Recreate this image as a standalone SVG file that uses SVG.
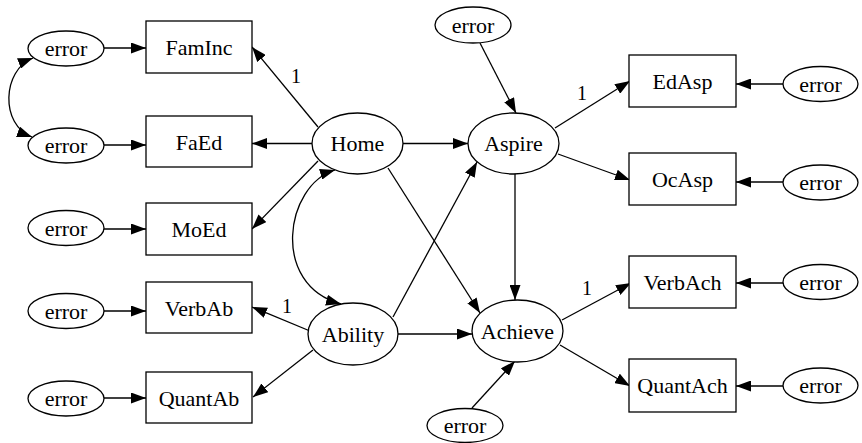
<svg xmlns="http://www.w3.org/2000/svg" width="862" height="443" viewBox="0 0 862 443">
<style>
.n{fill:#fff;stroke:#000;stroke-width:1.3}
.t{font-family:"Liberation Serif","DejaVu Serif",serif;font-size:22px;text-anchor:middle;fill:#000}
.e{fill:none;stroke:#000;stroke-width:1.3;marker-end:url(#ah)}
.b{fill:none;stroke:#000;stroke-width:1.3;marker-end:url(#ah);marker-start:url(#ah)}
.l{font-family:"Liberation Serif","DejaVu Serif",serif;font-size:20px;text-anchor:middle;fill:#000}
</style>
<defs>
<marker id="ah" viewBox="0 0 15 11" refX="15" refY="5.5" markerWidth="15" markerHeight="11" markerUnits="userSpaceOnUse" orient="auto-start-reverse"><path d="M0,0 L15,5.5 L0,11 z" fill="#000"/></marker>
</defs>
<rect width="862" height="443" fill="#fff"/>
<g id="connectors">
<line class="e" x1="104" y1="48" x2="146" y2="48"/>
<line class="e" x1="104" y1="145" x2="146" y2="145"/>
<line class="e" x1="104" y1="229" x2="146" y2="229"/>
<line class="e" x1="104" y1="311" x2="146" y2="311"/>
<line class="e" x1="104" y1="398" x2="146" y2="398"/>
<path class="b" d="M33,58 C2,70 0,125 32,137"/>
<line class="e" x1="318" y1="127" x2="252" y2="47"/>
<line class="e" x1="312" y1="143.5" x2="252" y2="143.5"/>
<line class="e" x1="318" y1="161" x2="252" y2="229"/>
<path class="b" d="M335,170 C285,185 270,285 341,304"/>
<line class="e" x1="403" y1="143.5" x2="468" y2="143.5"/>
<line class="e" x1="388" y1="168" x2="480" y2="313"/>
<line class="e" x1="393" y1="317" x2="477" y2="162"/>
<line class="e" x1="398" y1="334" x2="472" y2="334"/>
<line class="e" x1="310" y1="331" x2="252" y2="307"/>
<line class="e" x1="313" y1="350" x2="253" y2="397"/>
<line class="e" x1="515" y1="174" x2="515" y2="300"/>
<line class="e" x1="480" y1="43" x2="516" y2="113"/>
<line class="e" x1="472" y1="408" x2="515" y2="361"/>
<line class="e" x1="555" y1="128" x2="630" y2="81"/>
<line class="e" x1="558" y1="154" x2="630" y2="180"/>
<line class="e" x1="562" y1="320" x2="631" y2="283"/>
<line class="e" x1="560" y1="345" x2="630" y2="386"/>
<line class="e" x1="783" y1="84" x2="736" y2="84"/>
<line class="e" x1="783" y1="182" x2="736" y2="182"/>
<line class="e" x1="783" y1="283" x2="736" y2="283"/>
<line class="e" x1="783" y1="386" x2="736" y2="386"/>
<text class="l" x="296" y="83">1</text>
<text class="l" x="287" y="313">1</text>
<text class="l" x="582" y="100">1</text>
<text class="l" x="587" y="295">1</text>
</g>
<g id="err_faminc"><ellipse class="n" cx="66" cy="48.5" rx="38" ry="17.5"/><text class="t" x="66" y="56">error</text></g>
<g id="err_faed"><ellipse class="n" cx="66" cy="145.5" rx="38" ry="17.5"/><text class="t" x="66" y="153">error</text></g>
<g id="err_moed"><ellipse class="n" cx="66" cy="228" rx="38" ry="17.5"/><text class="t" x="66" y="235.5">error</text></g>
<g id="err_verbab"><ellipse class="n" cx="66" cy="311" rx="38" ry="17.5"/><text class="t" x="66" y="318.5">error</text></g>
<g id="err_quantab"><ellipse class="n" cx="66" cy="398.5" rx="38" ry="17.5"/><text class="t" x="66" y="406">error</text></g>
<g id="FamInc"><rect class="n" x="146" y="21" width="106" height="52"/><text class="t" x="199" y="55">FamInc</text></g>
<g id="FaEd"><rect class="n" x="146" y="116" width="106" height="51"/><text class="t" x="199" y="149.5">FaEd</text></g>
<g id="MoEd"><rect class="n" x="146" y="203" width="106" height="52"/><text class="t" x="199" y="237">MoEd</text></g>
<g id="VerbAb"><rect class="n" x="146" y="282" width="106" height="51"/><text class="t" x="199" y="315.5">VerbAb</text></g>
<g id="QuantAb"><rect class="n" x="146" y="372" width="106" height="51"/><text class="t" x="199" y="405.5">QuantAb</text></g>
<g id="Home"><ellipse class="n" cx="357.5" cy="143.5" rx="45.5" ry="30.5"/><text class="t" x="357.5" y="151">Home</text></g>
<g id="Ability"><ellipse class="n" cx="353" cy="334" rx="45" ry="31"/><text class="t" x="353" y="341.5">Ability</text></g>
<g id="Aspire"><ellipse class="n" cx="513.5" cy="143.5" rx="45.5" ry="30.5"/><text class="t" x="513.5" y="151">Aspire</text></g>
<g id="Achieve"><ellipse class="n" cx="517.5" cy="331" rx="45.5" ry="31"/><text class="t" x="517.5" y="338.5">Achieve</text></g>
<g id="err_aspire"><ellipse class="n" cx="473" cy="25" rx="38" ry="18"/><text class="t" x="473" y="32.5">error</text></g>
<g id="err_achieve"><ellipse class="n" cx="465" cy="425.5" rx="38" ry="17"/><text class="t" x="465" y="433">error</text></g>
<g id="EdAsp"><rect class="n" x="629" y="55" width="107" height="52"/><text class="t" x="682.5" y="89">EdAsp</text></g>
<g id="OcAsp"><rect class="n" x="629" y="153" width="107" height="52"/><text class="t" x="682.5" y="187">OcAsp</text></g>
<g id="VerbAch"><rect class="n" x="629" y="256" width="107" height="52"/><text class="t" x="682.5" y="290">VerbAch</text></g>
<g id="QuantAch"><rect class="n" x="629" y="359" width="107" height="53"/><text class="t" x="682.5" y="393">QuantAch</text></g>
<g id="err_edasp"><ellipse class="n" cx="820.5" cy="84" rx="37.5" ry="17.5"/><text class="t" x="820.5" y="91.5">error</text></g>
<g id="err_ocasp"><ellipse class="n" cx="820.5" cy="182.5" rx="37.5" ry="17.5"/><text class="t" x="820.5" y="190">error</text></g>
<g id="err_verbach"><ellipse class="n" cx="820.5" cy="282" rx="37.5" ry="17.5"/><text class="t" x="820.5" y="289.5">error</text></g>
<g id="err_quantach"><ellipse class="n" cx="820.5" cy="385.5" rx="37.5" ry="17.5"/><text class="t" x="820.5" y="393">error</text></g>
</svg>
